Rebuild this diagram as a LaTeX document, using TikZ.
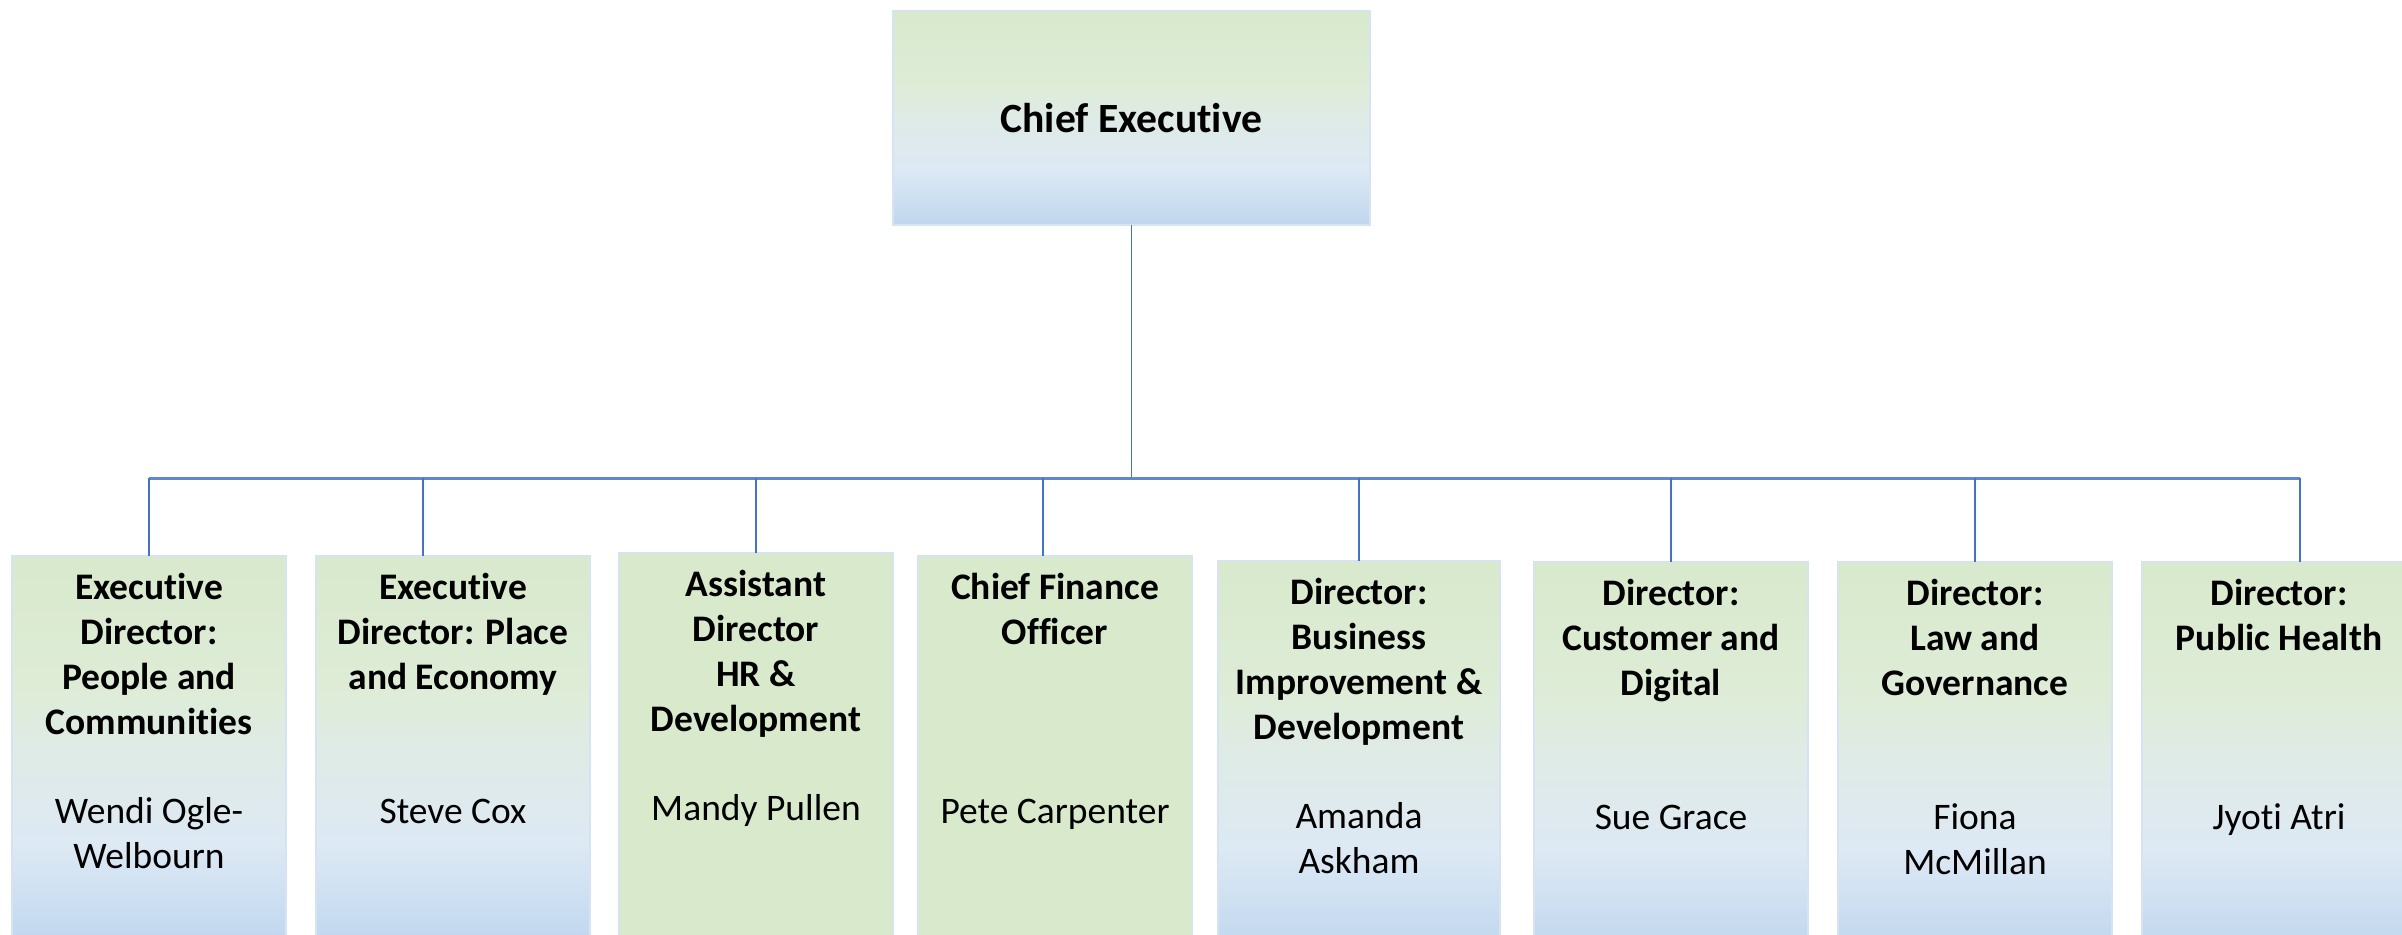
\documentclass[tikz,border=0pt]{standalone}
\usepackage{fontspec}
\setmainfont{Carlito}[Ligatures=NoCommon]
\usepackage{xcolor}
\usepackage{tikz}
\definecolor{leafgreen}{RGB}{216,233,204}
\definecolor{mistgreen}{RGB}{222,236,215}
\definecolor{haze}{RGB}{223,235,230}
\definecolor{paleblue}{RGB}{221,233,244}
\definecolor{midblue}{RGB}{205,223,241}
\definecolor{skyblue}{RGB}{192,214,238}
\definecolor{frameblue}{RGB}{214,227,243}
\definecolor{linkblue}{RGB}{68,114,196}
\definecolor{busblue}{RGB}{96,136,208}
\usetikzlibrary{positioning}

\pgfdeclareverticalshading{leaftosky}{100bp}{color(0bp)=(skyblue); color(25bp)=(skyblue); color(31bp)=(midblue); color(38bp)=(paleblue); color(50bp)=(haze); color(58bp)=(mistgreen); color(75bp)=(leafgreen); color(100bp)=(leafgreen)}

\begin{document}
\begin{tikzpicture}[x=1pt, y=-1pt,
	boxsize/.style={draw=frameblue, line width=1pt, minimum width=137pt, minimum height=195pt, inner sep=0pt, outer sep=0pt},
	unitbox/.style={boxsize, shading=leaftosky},
	greenbox/.style={boxsize, fill=leafgreen},
	chiefbox/.style={draw=frameblue, line width=1pt, shading=leaftosky, minimum width=238.5pt, minimum height=107pt, inner sep=0pt, outer sep=0pt, font=\fontsize{20.8}{25}\selectfont\bfseries},
	roletext/.style={align=center, inner sep=0pt, font=\fontsize{18.75}{22.5}\selectfont\bfseries},
	nametext/.style={align=center, inner sep=0pt, font=\fontsize{18.75}{22.5}\selectfont},
	link/.style={draw=linkblue, line width=0.75pt},
	bus/.style={draw=busblue, line width=1.5pt}]
	
	\useasboundingbox (0,0) rectangle (1201,467);
	\clip (0,0) rectangle (1201,467);
	
	\node[chiefbox] (chief) at (565.75,59) {Chief Executive};
	
	\node[unitbox, anchor=north west] (unit1) at (6,278) {};
	\node[unitbox, right=15pt of unit1] (unit2) {};
	\node[greenbox, right=14.5pt of unit2, yshift=1.5pt] (unit3) {};
	\node[greenbox, right=12.5pt of unit3, yshift=-1.5pt] (unit4) {};
	\node[unitbox, minimum width=141pt, right=13pt of unit4, yshift=-2.5pt] (unit5) {};
	\node[unitbox, right=17pt of unit5, yshift=-0.5pt] (unit6) {};
	\node[unitbox, right=15pt of unit6] (unit7) {};
	\node[unitbox, right=15pt of unit7] (unit8) {};
	
	\node[roletext, below=6pt of unit1.north] (role1) {\strut Executive\\Director:\\People and\\Communities};
	\node[nametext, below=118pt of unit1.north] (name1) {\strut Wendi Ogle-\\Welbourn};
	
	\node[roletext, below=6pt of unit2.north] (role2) {\strut Executive\\Director: Place\\and Economy};
	\node[nametext, below=118pt of unit2.north] (name2) {\strut Steve Cox};
	
	\node[roletext, below=6pt of unit3.north] (role3) {\strut Assistant\\Director\\HR \&\\Development};
	\node[nametext, below=118pt of unit3.north] (name3) {\strut Mandy Pullen};
	
	\node[roletext, below=6pt of unit4.north] (role4) {\strut Chief Finance\\Officer};
	\node[nametext, below=118pt of unit4.north] (name4) {\strut Pete Carpenter};
	
	\node[roletext, below=6pt of unit5.north] (role5) {\strut Director:\\Business\\Improvement \&\\Development};
	\node[nametext, below=118pt of unit5.north] (name5) {\strut Amanda\\Askham};
	
	\node[roletext, below=6pt of unit6.north] (role6) {\strut Director:\\Customer and\\Digital};
	\node[nametext, below=118pt of unit6.north] (name6) {\strut Sue Grace};
	
	\node[roletext, below=6pt of unit7.north] (role7) {\strut Director:\\Law and\\Governance};
	\node[nametext, below=118pt of unit7.north] (name7) {\strut Fiona\\McMillan};
	
	\node[roletext, below=6pt of unit8.north] (role8) {\strut Director:\\Public Health};
	\node[nametext, below=118pt of unit8.north] (name8) {\strut Jyoti Atri};
	
	\coordinate (busleft) at (74.5,239);
	\coordinate (busright) at (1150,239);
	
	\draw[link] (chief.south) -- (chief.south |- busleft);
	\draw[bus] (busleft) -- (busright);
	
	\draw[link] (unit1.north) -- (unit1.north |- busleft);
	\draw[link] ([xshift=-15pt]unit2.north) -- ([xshift=-15pt]unit2.north |- busleft);
	\draw[link] (unit3.north) -- (unit3.north |- busleft);
	\draw[link] ([xshift=-6pt]unit4.north) -- ([xshift=-6pt]unit4.north |- busleft);
	\draw[link] (unit5.north) -- (unit5.north |- busleft);
	\draw[link] (unit6.north) -- (unit6.north |- busleft);
	\draw[link] (unit7.north) -- (unit7.north |- busleft);
	\draw[link] ([xshift=10.5pt]unit8.north) -- ([xshift=10.5pt]unit8.north |- busleft);
\end{tikzpicture}
\end{document}
